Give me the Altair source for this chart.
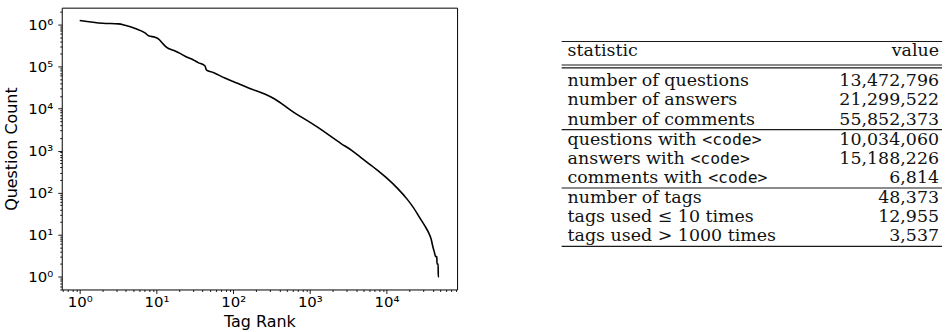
import altair as alt
import pandas as pd

# ---- rank/frequency curve of Stack Overflow tags ----
tag_rank = [1, 2, 3.2, 3.9, 5.3, 7.1, 8.0, 9.6, 10.6, 12.3, 13.6, 16.6, 20.3, 24.7,
            30, 35, 42.8, 45, 55, 78, 116, 172, 258, 348, 572, 1260, 2550, 3537,
            4877, 7638, 10000, 13900, 18620, 22390, 27930, 31620, 35418, 38000,
            40270, 41700, 43650, 45190, 45400, 47000, 47200, 48373]
question_count = [1245000, 1070000, 1035000, 960000, 805000, 630000, 530000, 500000,
                  457000, 340000, 285000, 243000, 205000, 169000, 145000, 124000,
                  104000, 82000, 72000, 53000, 39500, 29200, 22200, 16900, 8950, 3610,
                  1470, 1000, 631, 339, 224, 126, 69, 44, 23, 16, 11, 8, 5, 4, 3, 3,
                  2, 2, 1, 1]

# ---- dataset statistics ----
stat_names = ["number of questions", "number of answers", "number of comments",
              "questions with", "answers with", "comments with",
              "number of tags", "tags used \u2264 10 times", "tags used > 1000 times"]
stat_has_code = [False, False, False, True, True, True, False, False, False]
stat_values = [13472796, 21299522, 55852373, 10034060, 15188226, 6814, 48373, 12955, 3537]
group_ends = [3, 6, 9]          # a horizontal rule follows these rows

# ---------------------------------------------------------------- plot
curve = pd.DataFrame({"rank": tag_rank, "count": question_count})

lx0, lx1 = 0.0, 4.6846          # log10 extent of the ranks
ly0, ly1 = 0.0, 6.0952          # log10 extent of the counts
mx, my = 0.05 * (lx1 - lx0), 0.05 * (ly1 - ly0)
x_dom = [10 ** (lx0 - mx), 10 ** (lx1 + mx)]
y_dom = [10 ** (ly0 - my), 10 ** (ly1 + my)]


def log_ticks(lo, hi):
    out = []
    for e in range(-1, 8):
        for m in range(1, 10):
            v = m * 10 ** e
            if lo <= v <= hi:
                out.append(v)
    return out


is_major = "abs(log(datum.value)/LN10 - round(log(datum.value)/LN10)) < 1e-6"
label_expr = ("(" + is_major + ") ? '10' + substring('\u2070\u00b9\u00b2\u00b3\u2074\u2075\u2076', "
              "round(log(datum.value)/LN10), round(log(datum.value)/LN10) + 1) : ''")
tick_size = {"condition": {"test": is_major, "value": 4}, "value": 2}

axis_common = dict(
    labelExpr=label_expr, tickSize=tick_size, labelOverlap=False, labelBound=False,
    labelFlush=False, grid=False, domain=False, tickColor="black", tickWidth=0.9,
    labelColor="black", labelFont="DejaVu Sans", labelFontSize=15,
    titleColor="black", titleFont="DejaVu Sans", titleFontSize=16, titleFontWeight="normal",
)

line = alt.Chart(curve).mark_line(color="black", strokeWidth=1.6, interpolate="monotone").encode(
    x=alt.X("rank:Q",
            scale=alt.Scale(type="log", domain=x_dom, nice=False),
            axis=alt.Axis(values=log_ticks(*x_dom), title="Tag Rank",
                          labelPadding=1, titlePadding=4, **axis_common)),
    y=alt.Y("count:Q",
            scale=alt.Scale(type="log", domain=y_dom, nice=False),
            axis=alt.Axis(values=log_ticks(*y_dom), title="Question Count",
                          labelPadding=5, titlePadding=8, **axis_common)),
).properties(width=397, height=283,
             view=alt.ViewBackground(stroke="black", strokeWidth=1))

# ---------------------------------------------------------------- table
FONT = 17.5
CODE_FONT = 16.5
SERIF = "DejaVu Serif, Liberation Serif, serif"
TABLE_W = 382
TABLE_H = 283
LEFT_X = 6
RIGHT_X = TABLE_W - 3
HEAD_Y = 44.0                   # header row centre, px below the panel top
FIRST_Y = 74.0                  # first body row centre
ROW = 19.2                      # body row pitch
RULE_EXTRA = 1.0                # a rule between body rows widens the gap by this much

# advance widths of DejaVu Serif (em) for the characters that precede <code>
SERIF_EM = {" ": .318, "a": .596, "c": .560, "e": .592, "h": .644, "i": .320,
            "m": .948, "n": .644, "o": .602, "q": .640, "r": .478, "s": .513,
            "t": .402, "u": .644, "w": .856}


def serif_width(s):
    return sum(SERIF_EM[ch] for ch in s) * FONT


def body_y(i):                  # i = 1..9
    rules_passed = sum(1 for g in group_ends[:-1] if g < i)
    return FIRST_Y + ROW * (i - 1) + RULE_EXTRA * rules_passed


cells = [{"y": HEAD_Y, "x": LEFT_X, "t": "statistic", "align": "left", "kind": "serif"},
         {"y": HEAD_Y, "x": RIGHT_X, "t": "value", "align": "right", "kind": "serif"}]
for i, (name, code, val) in enumerate(zip(stat_names, stat_has_code, stat_values), start=1):
    cells.append({"y": body_y(i), "x": LEFT_X, "t": name, "align": "left", "kind": "serif"})
    cells.append({"y": body_y(i), "x": RIGHT_X, "t": f"{val:,}", "align": "right", "kind": "serif"})
    if code:
        cells.append({"y": body_y(i), "x": LEFT_X + serif_width(name + " "), "t": "<code>",
                      "align": "left", "kind": "mono"})
cells_df = pd.DataFrame(cells)

half = (ROW + RULE_EXTRA) / 2
rules = [HEAD_Y - 10, FIRST_Y - 16.5, FIRST_Y - 13.5]
rules += [body_y(k) + half for k in group_ends]
rules_df = pd.DataFrame({"y": rules, "x0": 0, "x1": TABLE_W})

tx = alt.Scale(domain=[0, TABLE_W], nice=False, zero=False)
ty = alt.Scale(domain=[0, TABLE_H], nice=False, zero=False, reverse=True)

rule_layer = alt.Chart(rules_df).mark_rule(color="#1a1a1a", strokeWidth=1.1).encode(
    x=alt.X("x0:Q", scale=tx, axis=None),
    x2="x1:Q",
    y=alt.Y("y:Q", scale=ty, axis=None),
)


def text_layer(kind, align, font, size):
    d = cells_df[(cells_df["kind"] == kind) & (cells_df["align"] == align)]
    return alt.Chart(d).mark_text(align=align, baseline="middle", font=font,
                                  fontSize=size, color="#111").encode(
        x=alt.X("x:Q", scale=tx, axis=None),
        y=alt.Y("y:Q", scale=ty, axis=None),
        text="t:N",
    )


table = alt.layer(
    rule_layer,
    text_layer("serif", "left", SERIF, FONT),
    text_layer("serif", "right", SERIF, FONT),
    text_layer("mono", "left", "DejaVu Sans Mono", CODE_FONT),
).properties(width=TABLE_W, height=TABLE_H,
             view=alt.ViewBackground(stroke="transparent"))

chart = alt.hconcat(line, table, spacing=102).properties(
    padding={"left": 3, "top": 3, "right": 4, "bottom": 0},
    background="white",
)

chart.save("out.html", embed_options={"renderer": "svg", "actions": False})
